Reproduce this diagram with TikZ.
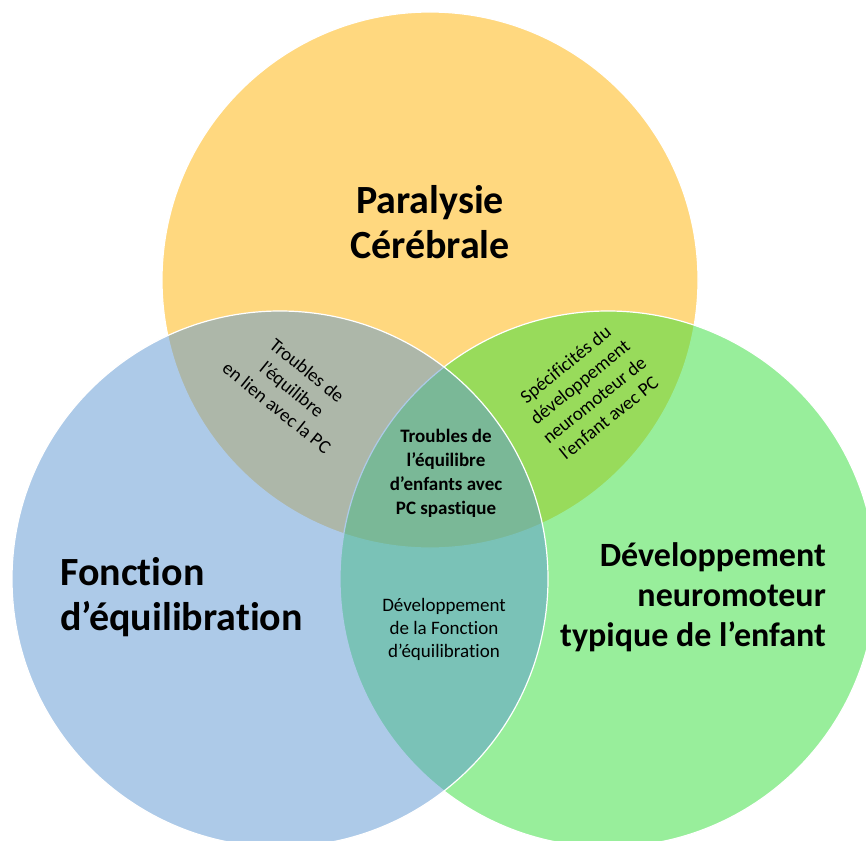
\documentclass[tikz,border=0pt]{standalone}
\usepackage{fontspec}
\setmainfont{Carlito}[Ligatures=NoCommon]
\definecolor{pcyellow}{RGB}{255,178,0}
\definecolor{eqblue}{RGB}{93,151,211}
\definecolor{devgreen}{RGB}{50,222,56}
\begin{document}
\begin{tikzpicture}[x=1pt,y=-1pt,
    set/.style={fill opacity=0.5, draw=white, line width=1.2pt},
    big/.style={font=\fontsize{40}{45}\selectfont\bfseries, inner sep=0pt},
    small/.style={font=\fontsize{19}{24}\selectfont, align=center, inner sep=0pt}]
    \useasboundingbox (0,0) rectangle (866,840);
    \fill[white] (0,0) rectangle (866,840);
    \clip (0,0) rectangle (866,840);
    % centres of the three sets
    \coordinate (P) at (430,280);
    \coordinate (F) at (280,579);
    \coordinate (D) at (608,579);
    \filldraw[set, fill=pcyellow] (P) circle (268pt);
    \filldraw[set, fill=devgreen] (D) circle (268pt);
    \filldraw[set, fill=eqblue] (F) circle (268pt);
    % main labels
    \node[big, align=center] (para) at (430,222) {Paralysie\\Cérébrale};
    \node[big, align=left, anchor=west] (fonc) at (60,597) {Fonction\\d’équilibration};
    \node[big, align=right, anchor=east, font=\fontsize{34}{40}\selectfont\bfseries] (devt) at (826,597)
        {Développement\\neuromoteur\\typique de l’enfant};
    % intersections
    \node[small, rotate=-39] (pf) at (292,389) {Troubles de\\l’équilibre\\en lien avec la PC};
    \node[small, rotate=39, font=\fontsize{19}{23}\selectfont] (pd) at (587,391)
        {Spécificités du\\développement\\neuromoteur de\\l’enfant avec PC};
    \node[small, font=\fontsize{19}{23}\selectfont] (fd) at (444,629)
        {Développement\\de la Fonction\\d’équilibration};
    \node[small, font=\fontsize{19}{24}\selectfont\bfseries] (pfd) at (446,473)
        {Troubles de\\l’équilibre\\d’enfants avec\\PC spastique};
\end{tikzpicture}
\end{document}
